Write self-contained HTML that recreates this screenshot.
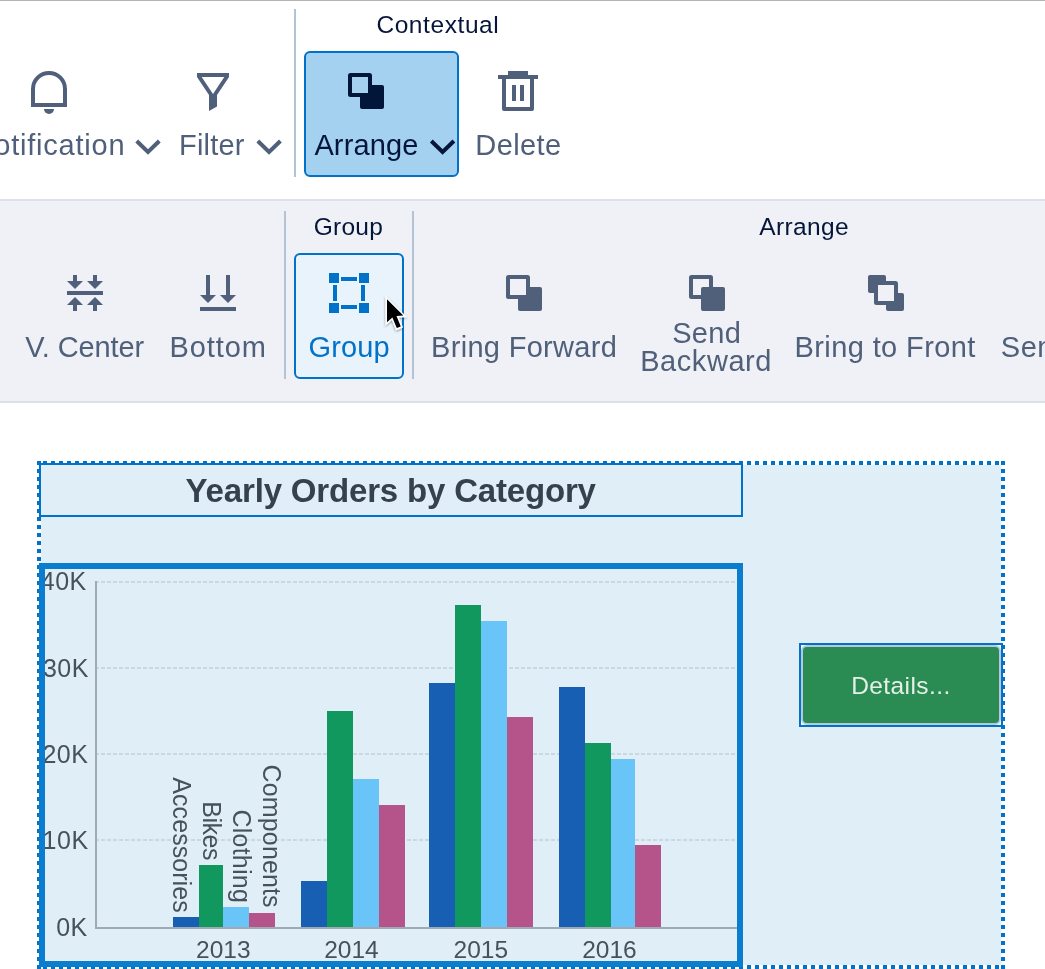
<!DOCTYPE html>
<html><head><meta charset="utf-8"><title>Arrange - Group</title>
<style>
html,body{margin:0;padding:0;background:#fff;}
body{width:1045px;height:969px;position:relative;overflow:hidden;font-family:"Liberation Sans",sans-serif;}
.t{position:absolute;white-space:nowrap;line-height:1;}
.ov{position:absolute;left:0;top:0;overflow:hidden;}
.abs{position:absolute;box-sizing:border-box;}
</style></head><body>
<div class="abs" style="left:0;top:0;width:1045px;height:1px;background:#b4b4b4"></div>
<div class="abs" style="left:0;top:199px;width:1045px;height:204px;background:#eff1f6;border-top:2px solid #dde1ea;border-bottom:2px solid #dde1ea"></div>
<div class="abs" style="left:294px;top:9px;width:2px;height:168px;background:#b2c3d5"></div>
<div class="abs" style="left:284px;top:211px;width:2px;height:168px;background:#b2c3d5"></div>
<div class="abs" style="left:412px;top:211px;width:2px;height:168px;background:#b2c3d5"></div>
<div class="abs" style="left:304px;top:51px;width:155px;height:126px;background:#a3d1ef;border:2px solid #0072c9;border-radius:6px"></div>
<div class="abs" style="left:294px;top:253px;width:110px;height:126px;background:#e8f3fb;border:2px solid #0072c9;border-radius:6px"></div>
<!-- canvas group -->
<div class="abs" style="left:41px;top:465px;width:960px;height:500px;background:#e0eef8"></div>
<svg class="ov" width="1045" height="969" viewBox="0 0 1045 969" shape-rendering="crispEdges"><path d="M43 463H1001M43 967H1001M39 469V965M1003 469V965" fill="none" stroke="#0072c9" stroke-width="4" stroke-dasharray="4 4"/><path d="M37 461h4v4h-4zM1001 461h4v4h-4zM37 965h4v4h-4zM1001 965h4v4h-4z" fill="#0072c9"/></svg>
<div class="abs" style="left:39px;top:463px;width:704px;height:54px;border:2px solid #0072c9"></div>
<div class="abs" style="left:39px;top:563px;width:704px;height:404px;border:6px solid #0a7dce"></div>

<svg class="ov" style="top:563px;left:39px" width="704" height="404" viewBox="39 563 704 404">
<defs><clipPath id="cc"><rect x="45" y="569" width="692" height="392"/></clipPath></defs>
<g clip-path="url(#cc)" font-family="'Liberation Sans', sans-serif" font-size="24" fill="#45525c">
<path d="M95 582 H737" stroke="#cad8e1" stroke-width="2" stroke-dasharray="4 2"/><path d="M95 668 H737" stroke="#cad8e1" stroke-width="2" stroke-dasharray="4 2"/><path d="M95 754 H737" stroke="#cad8e1" stroke-width="2" stroke-dasharray="4 2"/><path d="M95 840 H737" stroke="#cad8e1" stroke-width="2" stroke-dasharray="4 2"/>
<rect x="173" y="917" width="26" height="10" fill="#165fb2"/><rect x="199" y="865" width="24" height="62" fill="#10985f"/><rect x="223" y="907" width="26" height="20" fill="#69c5f8"/><rect x="249" y="913" width="26" height="14" fill="#b4548a"/><rect x="301" y="881" width="26" height="46" fill="#165fb2"/><rect x="327" y="711" width="26" height="216" fill="#10985f"/><rect x="353" y="779" width="26" height="148" fill="#69c5f8"/><rect x="379" y="805" width="26" height="122" fill="#b4548a"/><rect x="429" y="683" width="26" height="244" fill="#165fb2"/><rect x="455" y="605" width="26" height="322" fill="#10985f"/><rect x="481" y="621" width="26" height="306" fill="#69c5f8"/><rect x="507" y="717" width="26" height="210" fill="#b4548a"/><rect x="559" y="687" width="26" height="240" fill="#165fb2"/><rect x="585" y="743" width="26" height="184" fill="#10985f"/><rect x="611" y="759" width="24" height="168" fill="#69c5f8"/><rect x="635" y="845" width="26" height="82" fill="#b4548a"/>
<rect x="95" y="581" width="2" height="348" fill="#9faab4"/>
<rect x="95" y="927" width="642" height="2" fill="#9faab4"/>
<text x="86.8" y="590.2" text-anchor="end" font-size="25" letter-spacing="0.5">40K</text><text x="88.9" y="676.8" text-anchor="end" font-size="25" letter-spacing="0.5">30K</text><text x="88.4" y="762.8" text-anchor="end" font-size="25" letter-spacing="0.5">20K</text><text x="88.6" y="849.2" text-anchor="end" font-size="25" letter-spacing="0.5">10K</text><text x="87.8" y="936.3" text-anchor="end" font-size="25" letter-spacing="0.5">0K</text>
<text x="223.3" y="958" text-anchor="middle" font-size="24.5">2013</text><text x="351.5" y="958" text-anchor="middle" font-size="24.5">2014</text><text x="480.8" y="958" text-anchor="middle" font-size="24.5">2015</text><text x="609.5" y="958" text-anchor="middle" font-size="24.5">2016</text>
<text transform="translate(173.2 912.7) rotate(90)" text-anchor="end" font-size="25" textLength="135.4" lengthAdjust="spacing">Accessories</text><text transform="translate(202.8 860.4) rotate(90)" text-anchor="end" font-size="25" textLength="59.2" lengthAdjust="spacing">Bikes</text><text transform="translate(232.8 902.8) rotate(90)" text-anchor="end" font-size="25" textLength="93.4" lengthAdjust="spacing">Clothing</text><text transform="translate(262.6 907.6) rotate(90)" text-anchor="end" font-size="25" textLength="143" lengthAdjust="spacing">Components</text>
</g>
</svg>

<div class="abs" style="left:799px;top:643px;width:204px;height:84px;border:2px solid #0072c9;background:#f4f9fd;padding:0">
 <div class="abs" style="left:0;top:0;width:200px;height:80px;border:2px solid #b7c8de;border-radius:6px;background:#2a8c52"></div>
</div>

<svg class="ov" width="1045" height="403" viewBox="0 0 1045 403">
<!-- bell -->
<path d="M33 105 V89 A16 16 0 0 1 65 89 V105 Z" fill="none" stroke="#50607a" stroke-width="4"/>
<path d="M44 109 H54 A5 5 0 0 1 44 109 Z" fill="#50607a"/>
<!-- funnel -->
<path fill-rule="evenodd" d="M197 73 H229 V77 L217 95 V106.6 L209 111 V95 L197 77 Z M201.7 77 L213 94 L224.3 77 Z" fill="#50607a"/>
<path d="M136.7 141 L148.0 152 L159.3 141" fill="none" stroke="#50607a" stroke-width="4" stroke-linejoin="miter"/>
<path d="M257.8 141 L269.1 152 L280.4 141" fill="none" stroke="#50607a" stroke-width="4" stroke-linejoin="miter"/>
<path d="M431.3 141 L442.6 152 L453.9 141" fill="none" stroke="#06163a" stroke-width="4" stroke-linejoin="miter"/>
<!-- arrange icon -->
<rect x="360" y="85" width="24" height="24" rx="2" fill="#02163a"/><rect x="350" y="75" width="20" height="20" rx="0.5" fill="#a3d1ef" stroke="#02163a" stroke-width="4"/>
<!-- trash -->
<rect x="508" y="71" width="20" height="6" fill="#50607a"/>
<rect x="498" y="75" width="40" height="4" fill="#50607a"/>
<path d="M504 79 V109 H532 V79" fill="none" stroke="#50607a" stroke-width="4" stroke-linejoin="round"/>
<rect x="512" y="85" width="4" height="16" fill="#50607a"/>
<rect x="520" y="85" width="4" height="16" fill="#50607a"/>
<!-- v center -->
<g fill="#50607a">
<rect x="67" y="291" width="36" height="4"/>
<path d="M73 275 h4 v6 h6 l-8 8 l-8 -8 h6 Z"/>
<path d="M93 275 h4 v6 h6 l-8 8 l-8 -8 h6 Z"/>
<path d="M73 311 h4 v-6 h6 l-8 -8 l-8 8 h6 Z"/>
<path d="M93 311 h4 v-6 h6 l-8 -8 l-8 8 h6 Z"/>
<!-- bottom -->
<rect x="200" y="307" width="36" height="4"/>
<path d="M206 275 h4 v20 h6 l-8 8 l-8 -8 h6 Z"/>
<path d="M226 275 h4 v20 h6 l-8 8 l-8 -8 h6 Z"/>
</g>
<!-- group icon -->
<g fill="#0072c9">
<rect x="329" y="273" width="10" height="10"/><rect x="359" y="273" width="10" height="10"/>
<rect x="329" y="303" width="10" height="10"/><rect x="359" y="303" width="10" height="10"/>
<rect x="341" y="277" width="16" height="4"/><rect x="341" y="305" width="16" height="4"/>
<rect x="333" y="285" width="4" height="16"/><rect x="361" y="285" width="4" height="16"/>
</g>
<rect x="518" y="287" width="24" height="24" rx="2" fill="#50607a"/><rect x="508" y="277" width="20" height="20" rx="0.5" fill="#eff1f6" stroke="#50607a" stroke-width="4"/>
<rect x="691" y="277" width="20" height="20" rx="0.5" fill="none" stroke="#50607a" stroke-width="4"/><rect x="701" y="287" width="24" height="24" rx="2" fill="#50607a"/>
<rect x="868" y="275" width="18" height="18" rx="2" fill="#50607a"/><rect x="886" y="293" width="18" height="18" rx="2" fill="#50607a"/><rect x="876" y="283" width="20" height="20" rx="0.5" fill="#eff1f6" stroke="#50607a" stroke-width="4"/>
<!-- cursor -->
<g filter="url(#cs)">
<path d="M385.4 295.8 V325.8 L391.9 320.1 L396 330.4 L403 327.5 L398.8 317.5 L407 317.2 Z" fill="#fff"/>
<path d="M387 299.3 V322.3 L392.4 317.5 L396.8 328.1 L400.8 326.4 L396.5 316 L403.3 315.6 Z" fill="#000"/>
</g>
<defs><filter id="cs" x="-30%" y="-30%" width="160%" height="160%"><feDropShadow dx="0" dy="1" stdDeviation="1.2" flood-color="#000" flood-opacity="0.45"/></filter></defs>
</svg>

<span class="t" style="left:-27.50px;top:131.45px;font-size:29px;letter-spacing:0.788px;color:#50607a;font-weight:400">Notification</span>
<span class="t" style="left:179.00px;top:131.45px;font-size:29px;letter-spacing:0.183px;color:#50607a;font-weight:400">Filter</span>
<span class="t" style="left:314.40px;top:131.45px;font-size:29px;letter-spacing:0.126px;color:#06163a;font-weight:400">Arrange</span>
<span class="t" style="left:475.30px;top:131.45px;font-size:29px;letter-spacing:0.400px;color:#50607a;font-weight:400">Delete</span>
<span class="t" style="left:376.40px;top:12.56px;font-size:24.5px;letter-spacing:0.579px;color:#06163a;font-weight:400">Contextual</span>
<span class="t" style="left:25.30px;top:333.05px;font-size:29px;letter-spacing:-0.135px;color:#50607a;font-weight:400">V. Center</span>
<span class="t" style="left:169.40px;top:333.05px;font-size:29px;letter-spacing:0.917px;color:#50607a;font-weight:400">Bottom</span>
<span class="t" style="left:308.50px;top:333.05px;font-size:29px;letter-spacing:0.107px;color:#0072c9;font-weight:400">Group</span>
<span class="t" style="left:431.10px;top:333.05px;font-size:29px;letter-spacing:0.301px;color:#50607a;font-weight:400">Bring Forward</span>
<span class="t" style="left:672.20px;top:318.95px;font-size:29px;letter-spacing:0.300px;color:#50607a;font-weight:400">Send</span>
<span class="t" style="left:640.20px;top:347.45px;font-size:29px;letter-spacing:0.557px;color:#50607a;font-weight:400">Backward</span>
<span class="t" style="left:794.50px;top:333.05px;font-size:29px;letter-spacing:0.398px;color:#50607a;font-weight:400">Bring to Front</span>
<span class="t" style="left:1000.80px;top:333.05px;font-size:29px;letter-spacing:0.527px;color:#50607a;font-weight:400">Send to Back</span>
<span class="t" style="left:313.70px;top:214.56px;font-size:24.5px;letter-spacing:0.258px;color:#06163a;font-weight:400">Group</span>
<span class="t" style="left:759.20px;top:214.56px;font-size:24.5px;letter-spacing:0.361px;color:#06163a;font-weight:400">Arrange</span>
<span class="t" style="left:185.60px;top:474.07px;font-size:33px;letter-spacing:-0.174px;color:#35424d;font-weight:700">Yearly Orders by Category</span>
<span class="t" style="left:851.20px;top:674.26px;font-size:24.5px;letter-spacing:0.411px;color:#e6f0ea;font-weight:400">Details...</span>
</body></html>
